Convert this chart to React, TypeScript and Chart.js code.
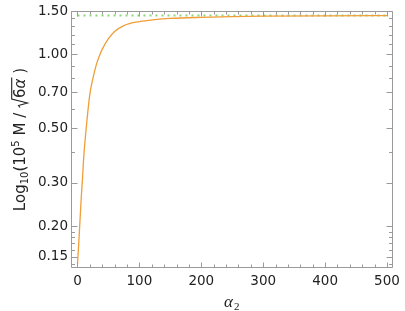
import React, { useEffect, useRef } from 'react';
import { Chart, registerables } from 'chart.js';

Chart.register(...registerables);

// ---- data ----
const ALPHA = [0, 2, 4, 6, 8, 10, 12, 15, 20, 25, 30, 35, 40, 50, 60, 75, 100, 125, 150, 200, 250, 300, 400, 500];
const LOG_M = [0.14, 0.17, 0.21, 0.26, 0.31, 0.38, 0.44, 0.53, 0.69, 0.8, 0.9, 0.98, 1.05, 1.16, 1.24, 1.31, 1.36, 1.385, 1.4, 1.415, 1.425, 1.43, 1.435, 1.438];
const REF_X = [0, 500];
const REF_LEVEL = [1.44, 1.44];
const X_TICKS = [0, 100, 200, 300, 400, 500];
const X_MINOR = [20, 40, 60, 80, 120, 140, 160, 180, 220, 240, 260, 280, 320, 340, 360, 380, 420, 440, 460, 480];
const Y_TICKS = [0.15, 0.2, 0.3, 0.5, 0.7, 1.0, 1.5];
const Y_MINOR = [0.14, 0.16, 0.17, 0.18, 0.19, 0.4, 0.6, 0.8, 0.9, 1.1, 1.2, 1.3, 1.4];

const ORANGE = 'rgb(240,158,55)';
const GREEN = 'rgb(140,212,120)';
const FRAME = '#9a9a9a';
const TEXT = '#222';
const SANS = '"DejaVu Sans"';

const framePlugin = {
  id: 'frame',
  afterDatasetsDraw(chart: any) {
    const { ctx, chartArea: ca, scales } = chart;
    const xs = scales.x;
    const ys = scales.y;
    const L = Math.round(ca.left) + 0.5;
    const R = Math.round(ca.right) - 0.5;
    const T = Math.round(ca.top) + 0.5;
    const B = Math.round(ca.bottom) - 0.5;
    ctx.save();
    ctx.strokeStyle = FRAME;
    ctx.lineWidth = 1;
    ctx.beginPath();
    ctx.rect(L, T, R - L, B - T);
    ctx.stroke();
    ctx.beginPath();
    const xt = (v: number, len: number) => {
      const p = Math.round(xs.getPixelForValue(v)) + 0.5;
      ctx.moveTo(p, B); ctx.lineTo(p, B - len);
      ctx.moveTo(p, T); ctx.lineTo(p, T + len);
    };
    const yt = (v: number, len: number) => {
      const p = Math.round(ys.getPixelForValue(v)) + 0.5;
      ctx.moveTo(L, p); ctx.lineTo(L + len, p);
      ctx.moveTo(R, p); ctx.lineTo(R - len, p);
    };
    X_TICKS.forEach((v) => xt(v, 5));
    X_MINOR.forEach((v) => xt(v, 3));
    Y_TICKS.forEach((v) => yt(v, 6));
    Y_MINOR.forEach((v) => yt(v, 3.5));
    ctx.stroke();
    ctx.restore();
  },
};

const titlePlugin = {
  id: 'titles',
  afterDraw(chart: any) {
    const { ctx, chartArea: ca } = chart;
    ctx.save();
    ctx.fillStyle = TEXT;
    ctx.textBaseline = 'alphabetic';
    ctx.textAlign = 'left';

    // y axis title: Log10(10^5 M / sqrt(6 alpha) )
    const big = `15px ${SANS}`;
    const small = `10px ${SANS}`;
    const ital = `italic 15px ${SANS}`;
    type Part = { t?: string; f?: string; dy?: number; rad?: number };
    const parts: Part[] = [
      { t: 'Log', f: big, dy: 0 },
      { t: '10', f: small, dy: 3 },
      { t: '(10', f: big, dy: 0 },
      { t: '5', f: small, dy: -6 },
      { t: ' M / ', f: big, dy: 0 },
      { rad: 10 },
      { t: '6', f: big, dy: 0 },
      { t: 'α', f: ital, dy: 0 },
      { t: ' )', f: big, dy: 0 },
    ];
    let total = 0;
    const widths = parts.map((p) => {
      if (p.rad) return p.rad;
      ctx.font = p.f;
      return ctx.measureText(p.t).width;
    });
    widths.forEach((w) => (total += w));
    const cy = (ca.top + ca.bottom) / 2;
    ctx.translate(25, cy);
    ctx.rotate(-Math.PI / 2);
    let x = -total / 2;
    let radStart = 0;
    parts.forEach((p, i) => {
      if (p.rad) {
        radStart = x;
        x += widths[i];
        return;
      }
      ctx.font = p.f;
      ctx.fillText(p.t, x, p.dy || 0);
      x += widths[i];
    });
    // radical sign with vinculum over "6α"
    const radEnd = radStart + widths[5] + widths[6] + widths[7] + 1;
    ctx.strokeStyle = TEXT;
    ctx.lineWidth = 1.1;
    ctx.beginPath();
    ctx.moveTo(radStart + 0.5, -5);
    ctx.lineTo(radStart + 2.5, -6.5);
    ctx.lineTo(radStart + 5, 2.5);
    ctx.lineTo(radStart + 9, -13.3);
    ctx.lineTo(radEnd, -13.3);
    ctx.stroke();
    ctx.restore();

    // x axis title: alpha_2
    ctx.save();
    ctx.fillStyle = TEXT;
    ctx.textBaseline = 'alphabetic';
    ctx.textAlign = 'left';
    ctx.font = 'italic 17px "Liberation Serif"';
    const wa = ctx.measureText('α').width;
    ctx.font = '11px "Liberation Serif"';
    const w2 = ctx.measureText('2').width;
    const cx = (ca.left + ca.right) / 2;
    const x0 = cx - (wa + w2 + 1) / 2;
    ctx.font = 'italic 17px "Liberation Serif"';
    ctx.fillText('α', x0, 307);
    ctx.font = '11px "Liberation Serif"';
    ctx.fillText('2', x0 + wa + 1, 310);
    ctx.restore();
  },
};

export default function App() {
  const ref = useRef<HTMLCanvasElement>(null);
  useEffect(() => {
    const tickFont = { family: SANS, size: 13.5 };
    const chart = new Chart(ref.current as HTMLCanvasElement, {
      type: 'line',
      data: {
        datasets: [
          {
            data: ALPHA.map((a, i) => ({ x: a, y: LOG_M[i] })),
            borderColor: ORANGE,
            borderWidth: 1.3,
            pointRadius: 0,
            cubicInterpolationMode: 'monotone',
            fill: false,
          },
          {
            data: REF_X.map((a, i) => ({ x: a, y: REF_LEVEL[i] })),
            borderColor: GREEN,
            borderWidth: 2,
            borderDash: [2, 4],
            pointRadius: 0,
            fill: false,
          },
        ],
      },
      options: {
        responsive: false,
        animation: false,
        layout: { padding: { top: 7, right: 7, left: 0, bottom: 0 } },
        plugins: { legend: { display: false }, tooltip: { enabled: false } },
        scales: {
          x: {
            type: 'linear',
            min: -10.5,
            max: 509,
            afterBuildTicks: (s: any) => {
              s.ticks = X_TICKS.map((v) => ({ value: v }));
            },
            afterFit: (s: any) => {
              s.height = 43;
            },
            grid: { display: false, drawTicks: false },
            border: { display: false },
            ticks: {
              font: tickFont,
              color: TEXT,
              padding: 5,
              maxRotation: 0,
              autoSkip: false,
              callback: (v: any) => String(v),
            },
          },
          y: {
            type: 'logarithmic',
            min: 0.135,
            max: 1.5,
            afterBuildTicks: (s: any) => {
              s.ticks = Y_TICKS.map((v) => ({ value: v }));
            },
            afterFit: (s: any) => {
              s.width = 71;
            },
            grid: { display: false, drawTicks: false },
            border: { display: false },
            ticks: {
              font: tickFont,
              color: TEXT,
              padding: 3,
              autoSkip: false,
              callback: (v: any) => Number(v).toFixed(2),
            },
          },
        },
      } as any,
      plugins: [framePlugin, titlePlugin],
    });
    return () => chart.destroy();
  }, []);
  return (
    <div style={{ position: 'absolute', left: 0, top: 0, width: 405, height: 311 }}>
      <canvas ref={ref} width={405} height={311} style={{ display: 'block' }} />
    </div>
  );
}
